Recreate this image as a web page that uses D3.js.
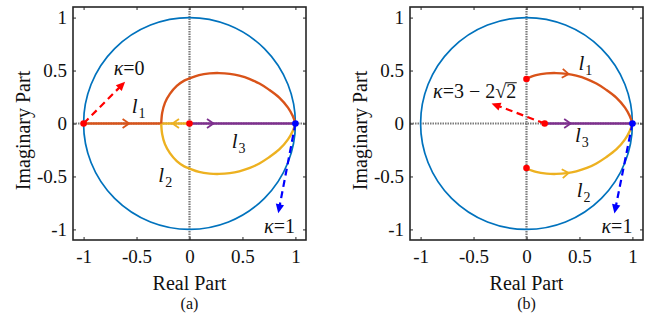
<!DOCTYPE html>
<html>
<head>
<meta charset="utf-8">
<script src="https://cdn.jsdelivr.net/npm/d3@7"></script>
<style>
  html, body { margin: 0; padding: 0; background: #fff; }
  svg { display: block; }
  text { font-family: "Liberation Serif", "Times New Roman", serif; fill: #111; }
</style>
</head>
<body>
<svg id="chart" width="653" height="322"></svg>
<script>
// ---- data: root-locus branches in the complex plane ----
const tickValues = [-1, -0.5, 0, 0.5, 1];
const tickLabels = ["-1", "-0.5", "0", "0.5", "1"];
const axisDomain = [-1.1, 1.1];
const unitRadius = 1;

// upper complex branch (real, imag) from the breakaway point to z = 1
const upperArc = [
  [-0.267, 0], [-0.258, 0.1], [-0.232, 0.195], [-0.185, 0.28], [-0.12, 0.355],
  [-0.05, 0.405], [0, 0.425], [0.09, 0.457], [0.19, 0.473], [0.28, 0.476],
  [0.38, 0.469], [0.47, 0.452], [0.57, 0.42], [0.66, 0.377], [0.75, 0.32],
  [0.85, 0.243], [0.93, 0.15], [0.975, 0.07], [1, 0]
];
// lower branch is the conjugate of the upper one
const lowerArc = upperArc.map(d => [d[0], -d[1]]);
// same branches starting at the imaginary-axis crossing (κ = 3 − 2√2)
const upperArcB = upperArc.filter(d => d[0] >= 0);
const lowerArcB = lowerArc.filter(d => d[0] >= 0);

// real-axis segments
const l1RealA = [[-1, 0], [-0.267, 0]];
const l2RealA = [[0, 0], [-0.267, 0]];
const l3RealA = [[0, 0], [1, 0]];
const l3RealB = [[0.1716, 0], [1, 0]];

// start points (red) and end point (blue)
const startPointsA = [[-1, 0], [0, 0]];
const startPointsB = [[0, 0.42], [0, -0.42], [0.1716, 0]];
const endPoint = [1, 0];

// annotation arrows: [from, to]
const redArrowA = [[-1, 0], [-0.608, 0.394]];
const blueArrowA = [[1, 0], [0.838, -0.847]];
const redArrowB = [[0.1716, 0], [-0.33, 0.19]];
const blueArrowB = [[1, 0], [0.83, -0.85]];

const colors = {
  circle: "#0072BD", l1: "#D95319", l2: "#EDB120", l3: "#7E2F8E",
  red: "#FF0000", blue: "#0000FF", zero: "#7a7a7a", box: "#262626"
};

const svg = d3.select("#chart");

function panel(opts) {
  const x = d3.scaleLinear().domain(axisDomain).range([opts.left, opts.left + 233]);
  const y = d3.scaleLinear().domain(axisDomain).range([240, 7]);
  const g = svg.append("g");

  // zero lines (dotted)
  g.append("line").attr("x1", x(axisDomain[0])).attr("x2", x(axisDomain[1]))
    .attr("y1", y(0)).attr("y2", y(0))
    .attr("stroke", colors.zero).attr("stroke-width", 2.2).attr("stroke-dasharray", "1.5,1");
  g.append("line").attr("x1", x(0)).attr("x2", x(0))
    .attr("y1", y(axisDomain[0])).attr("y2", y(axisDomain[1]))
    .attr("stroke", colors.zero).attr("stroke-width", 2.2).attr("stroke-dasharray", "1.5,1");

  // unit circle
  g.append("ellipse").attr("cx", x(0)).attr("cy", y(0))
    .attr("rx", x(unitRadius) - x(0)).attr("ry", y(0) - y(unitRadius))
    .attr("fill", "none").attr("stroke", colors.circle).attr("stroke-width", 1.7);

  const straight = d3.line().x(d => x(d[0])).y(d => y(d[1]));
  const smooth = d3.line().x(d => x(d[0])).y(d => y(d[1])).curve(d3.curveCatmullRom.alpha(0.5));

  const paths = {};
  opts.curves.forEach(c => {
    paths[c.id] = g.append("path").datum(c.data)
      .attr("d", c.smooth ? smooth : straight)
      .attr("fill", "none").attr("stroke", c.color).attr("stroke-width", 2.4)
      .attr("stroke-linejoin", "round");
  });

  // open chevron arrowheads along branches
  opts.chevrons.forEach(a => {
    const node = paths[a.path].node();
    const L = node.getTotalLength();
    let best = 0, bestD = Infinity;
    for (let s = 0; s <= L; s += 0.5) {
      const p = node.getPointAtLength(s);
      const dd = Math.abs(p.x - x(a.at));
      if (dd < bestD) { bestD = dd; best = s; }
    }
    const p0 = node.getPointAtLength(Math.max(0, best - 1));
    const p1 = node.getPointAtLength(Math.min(L, best + 1));
    const p = node.getPointAtLength(best);
    const ang = Math.atan2(p1.y - p0.y, p1.x - p0.x) * 180 / Math.PI;
    g.append("path").attr("d", "M-6.5,-4.5L0,0L-6.5,4.5")
      .attr("transform", `translate(${p.x + 3 * Math.cos(ang * Math.PI / 180)},${p.y + 3 * Math.sin(ang * Math.PI / 180)}) rotate(${ang})`)
      .attr("fill", "none").attr("stroke", a.color).attr("stroke-width", 1.8);
  });

  // dashed annotation arrows
  opts.arrows.forEach(a => {
    const x1 = x(a.pts[0][0]), y1 = y(a.pts[0][1]);
    const x2 = x(a.pts[1][0]), y2 = y(a.pts[1][1]);
    const ang = Math.atan2(y2 - y1, x2 - x1);
    const hl = 9;
    g.append("line").attr("x1", x1).attr("y1", y1)
      .attr("x2", x2 - hl * 0.8 * Math.cos(ang)).attr("y2", y2 - hl * 0.8 * Math.sin(ang))
      .attr("stroke", a.color).attr("stroke-width", 2.2).attr("stroke-dasharray", "7,4.5");
    g.append("path").attr("d", `M0,0L${-hl},-4.2L${-hl},4.2Z`)
      .attr("transform", `translate(${x2},${y2}) rotate(${ang * 180 / Math.PI})`)
      .attr("fill", a.color);
  });

  // start / end markers
  g.selectAll("circle.start").data(opts.starts).join("circle")
    .attr("cx", d => x(d[0])).attr("cy", d => y(d[1])).attr("r", 3.3).attr("fill", colors.red);
  g.append("circle").attr("cx", x(endPoint[0])).attr("cy", y(endPoint[1]))
    .attr("r", 3.3).attr("fill", colors.blue);

  // axes with inward ticks on all four sides
  const fmt = v => tickLabels[tickValues.indexOf(v)];
  const axB = g.append("g").attr("transform", `translate(0,240)`)
    .call(d3.axisBottom(x).tickValues(tickValues).tickFormat(fmt).tickSize(-3).tickSizeOuter(0).tickPadding(10));
  const axL = g.append("g").attr("transform", `translate(${opts.left},0)`)
    .call(d3.axisLeft(y).tickValues(tickValues).tickFormat(fmt).tickSize(-3).tickSizeOuter(0).tickPadding(6));
  const axT = g.append("g").attr("transform", `translate(0,7)`)
    .call(d3.axisTop(x).tickValues(tickValues).tickFormat("").tickSize(-3).tickSizeOuter(0));
  const axR = g.append("g").attr("transform", `translate(${opts.left + 233},0)`)
    .call(d3.axisRight(y).tickValues(tickValues).tickFormat("").tickSize(-3).tickSizeOuter(0));
  [axB, axL, axT, axR].forEach(a => {
    a.select(".domain").remove();
    a.selectAll(".tick line").attr("stroke", colors.box).attr("stroke-width", 1);
    a.selectAll("text").attr("font-size", 19).attr("font-family", "Liberation Serif").attr("fill", "#111");
  });

  g.append("rect").attr("x", opts.left).attr("y", 7).attr("width", 233).attr("height", 233)
    .attr("fill", "none").attr("stroke", colors.box).attr("stroke-width", 1.6);

  // axis titles and caption
  g.append("text").attr("x", x(0)).attr("y", 290).attr("text-anchor", "middle")
    .attr("font-size", 20).text("Real Part");
  g.append("text").attr("x", x(0)).attr("y", 309).attr("text-anchor", "middle")
    .attr("font-size", 16).text(opts.caption);
  g.append("text").attr("transform", `translate(${opts.left - 43},${y(0) + 7}) rotate(-90)`)
    .attr("text-anchor", "middle").attr("font-size", 20).text("Imaginary Part");

  // branch labels l1, l2, l3
  opts.branchLabels.forEach(b => {
    const t = g.append("text").attr("x", x(b.x)).attr("y", y(b.y)).attr("font-size", 21);
    t.append("tspan").attr("font-style", "italic").text("l");
    t.append("tspan").attr("font-size", 14).attr("dy", 5).attr("dx", 1).text(b.n);
  });

  // κ annotations
  opts.kappaLabels.forEach(k => {
    const t = g.append("text").attr("x", x(k.x)).attr("y", y(k.y))
      .attr("text-anchor", k.anchor).attr("font-size", 20);
    t.append("tspan").attr("font-style", "italic").text("κ");
    t.append("tspan").text(k.text);
    if (k.sqrt) {
      t.append("tspan").text("√");
      const last = t.append("tspan").text(k.sqrt);
      const bb = last.node().getBBox();
      const rb = t.node().getBBox();
      g.append("line").attr("x1", bb.x - 0.5).attr("x2", bb.x + bb.width + 0.5)
        .attr("y1", rb.y + 3).attr("y2", rb.y + 3)
        .attr("stroke", "#111").attr("stroke-width", 1);
    }
  });
}

panel({
  left: 73, caption: "(a)",
  curves: [
    { id: "l1r", data: l1RealA, color: colors.l1 },
    { id: "l2r", data: l2RealA, color: colors.l2 },
    { id: "l3r", data: l3RealA, color: colors.l3 },
    { id: "l2a", data: lowerArc, color: colors.l2, smooth: true },
    { id: "l1a", data: upperArc, color: colors.l1, smooth: true }
  ],
  chevrons: [
    { path: "l1r", at: -0.6, color: colors.l1 },
    { path: "l2r", at: -0.13, color: colors.l2 },
    { path: "l3r", at: 0.2, color: colors.l3 }
  ],
  arrows: [
    { pts: redArrowA, color: colors.red },
    { pts: blueArrowA, color: colors.blue }
  ],
  starts: startPointsA,
  branchLabels: [
    { x: -0.545, y: 0.096, n: "1" },
    { x: -0.294, y: -0.55, n: "2" },
    { x: 0.398, y: -0.234, n: "3" }
  ],
  kappaLabels: [
    { x: -0.57, y: 0.46, text: "=0", anchor: "middle" },
    { x: 0.85, y: -1.037, text: "=1", anchor: "middle" }
  ]
});

panel({
  left: 410, caption: "(b)",
  curves: [
    { id: "l3r", data: l3RealB, color: colors.l3 },
    { id: "l2a", data: lowerArcB, color: colors.l2, smooth: true },
    { id: "l1a", data: upperArcB, color: colors.l1, smooth: true }
  ],
  chevrons: [
    { path: "l1a", at: 0.37, color: colors.l1 },
    { path: "l2a", at: 0.37, color: colors.l2 },
    { path: "l3r", at: 0.39, color: colors.l3 }
  ],
  arrows: [
    { pts: redArrowB, color: colors.red },
    { pts: blueArrowB, color: colors.blue }
  ],
  starts: startPointsB,
  branchLabels: [
    { x: 0.49, y: 0.505, n: "1" },
    { x: 0.474, y: -0.69, n: "2" },
    { x: 0.458, y: -0.17, n: "3" }
  ],
  kappaLabels: [
    { x: -0.882, y: 0.243, text: "=3 − 2", sqrt: "2", anchor: "start" },
    { x: 0.854, y: -1.037, text: "=1", anchor: "middle" }
  ]
});
</script>
</body>
</html>
